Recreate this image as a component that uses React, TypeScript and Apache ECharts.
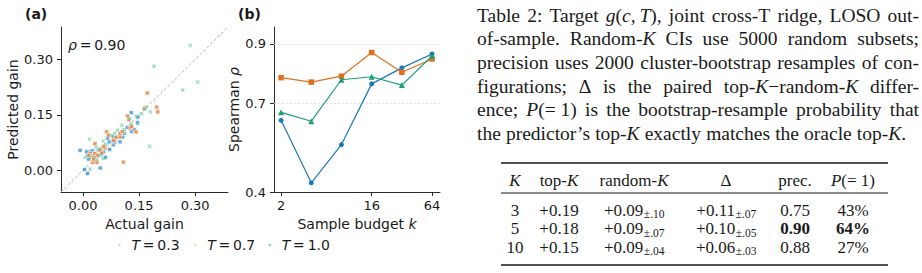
import React, { useEffect, useRef } from 'react';
import * as echarts from 'echarts';

// ---- Panel (a): predicted vs actual gain, one list of [actual, predicted] per temperature
const gainT03: number[][] = [
  [-0.008, 0.054], [0.004, 0.002], [0.012, -0.009], [0.046, 0.006], [0.010, 0.050],
  [0.019, 0.050], [0.025, 0.052], [0.041, 0.054], [0.050, 0.044], [0.071, 0.056],
  [0.070, 0.077], [0.081, 0.069], [0.085, 0.077], [0.099, 0.077], [0.106, 0.090],
  [0.081, 0.090], [0.130, 0.105], [0.146, 0.129], [0.147, 0.144], [0.129, 0.156],
  [0.119, 0.116], [0.066, 0.087], [0.090, 0.090], [0.036, 0.040], [0.060, 0.035],
  [0.137, 0.110], [0.110, 0.100], [0.015, 0.030], [0.030, 0.045], [0.055, 0.050],
];
const gainT07: number[][] = [
  [0.172, 0.209], [0.197, 0.171], [0.200, 0.158], [0.164, 0.167], [0.108, 0.022],
  [0.123, 0.137], [0.126, 0.114], [0.142, 0.104], [0.099, 0.090], [0.099, 0.099],
  [0.088, 0.088], [0.063, 0.104], [0.068, 0.095], [0.081, 0.081], [0.059, 0.060],
  [0.032, 0.072], [0.050, 0.047], [0.032, 0.045], [0.019, 0.045], [0.038, 0.040],
  [0.030, 0.035], [0.026, 0.021], [0.037, 0.021], [0.119, 0.147], [0.045, 0.055],
  [0.015, 0.040], [0.055, 0.065], [0.130, 0.118], [0.105, 0.105], [0.028, 0.030],
];
const gainT10: number[][] = [
  [0.287, 0.338], [0.190, 0.282], [0.307, 0.239], [0.267, 0.217], [0.178, 0.065],
  [0.170, 0.171], [0.017, 0.084], [0.054, 0.079], [0.104, 0.122], [0.129, 0.126],
  [0.142, 0.146], [0.093, 0.108], [0.077, 0.095], [0.046, 0.059], [0.023, 0.036],
  [0.037, 0.029], [0.054, 0.032], [0.012, 0.040], [0.146, 0.126], [0.157, 0.153],
  [0.019, 0.003], [0.180, 0.158], [0.110, 0.110], [0.060, 0.070], [0.035, 0.062],
  [0.125, 0.140], [0.085, 0.100], [0.165, 0.165], [0.005, 0.035], [0.045, 0.040],
];
const gainTicks = [0, 0.15, 0.3];
const gainRange = [-0.059, 0.388];
const overallRho = '0.90';

// ---- Panel (b): Spearman rho against sample budget k
const budgets = [2, 4, 8, 16, 32, 64];
const rhoT03 = [0.642, 0.431, 0.560, 0.765, 0.819, 0.866];
const rhoT07 = [0.786, 0.771, 0.791, 0.871, 0.804, 0.849];
const rhoT10 = [0.669, 0.639, 0.779, 0.789, 0.761, 0.859];
const budgetTicks = [2, 16, 64];
const rhoTicks = [0.4, 0.7, 0.9];
const rhoGridLines = [0.7, 0.9];

const seriesNames = ['T = 0.3', 'T = 0.7', 'T = 1.0'];

// ---- Table 2
const captionLines = [
  'Table 2: Target _g_(_c_,\u2009_T_), joint cross-T ridge, LOSO out-',
  'of-sample. Random-_K_ CIs use 5000 random subsets;',
  'precision uses 2000 cluster-bootstrap resamples of con-',
  'figurations; \u0394 is the paired top-_K_\u2212random-_K_ differ-',
  'ence; _P_(=\u00a01) is the bootstrap-resample probability that',
  'the predictor\u2019s top-_K_ exactly matches the oracle top-_K_.',
];
const tableHeader = ['_K_', 'top-_K_', 'random-_K_', '\u0394', 'prec.', '_P_(=\u00a01)'];
const tableK = ['3', '5', '10'];
const tableTopK = ['+0.19', '+0.18', '+0.15'];
const tableRandomK = ['+0.09', '+0.09', '+0.09'];
const tableRandomKCI = ['\u00b1.10', '\u00b1.07', '\u00b1.04'];
const tableDelta = ['+0.11', '+0.10', '+0.06'];
const tableDeltaCI = ['\u00b1.07', '\u00b1.05', '\u00b1.03'];
const tablePrecision = ['0.75', '0.90', '0.88'];
const tableExact = ['43%', '64%', '27%'];
const tableBestRow = 1;

const INK = '#1a1a1a';
const SANS = 'DejaVu Sans';
const SERIF = '"Liberation Serif", "Times New Roman", serif';
const BLUE = '#1b78b9';
const ORANGE = '#e0701c';
const GREEN = '#1c9f77';

const measureCtx = document.createElement('canvas').getContext('2d') as CanvasRenderingContext2D;
function fontOf(size: number, italic: boolean, bold = false) {
  return `${italic ? 'italic ' : ''}${bold ? 'bold ' : ''}${size}px ${SERIF}`;
}
function textWidth(s: string, font: string) {
  measureCtx.font = font;
  return measureCtx.measureText(s).width;
}
type Seg = { t: string; italic: boolean };
function parseSegments(word: string): Seg[] {
  return word
    .split('_')
    .map((t, i) => ({ t, italic: i % 2 === 1 }))
    .filter((s) => s.t.length > 0);
}
function segWidth(segs: Seg[], size: number, bold = false) {
  return segs.reduce((s, g) => s + textWidth(g.t, fontOf(size, g.italic, bold)), 0);
}
function segTexts(x0: number, y: number, segs: Seg[], size: number, bold = false): any[] {
  let x = x0;
  return segs.map((g) => {
    const el = {
      type: 'text',
      x,
      y,
      silent: true,
      style: {
        text: g.t,
        fontSize: size,
        fontFamily: SERIF,
        fontStyle: g.italic ? 'italic' : 'normal',
        fontWeight: bold ? 'bold' : 'normal',
        fill: INK,
        align: 'left',
        verticalAlign: 'middle',
      },
    };
    x += textWidth(g.t, fontOf(size, g.italic, bold));
    return el;
  });
}

// Justified caption paragraph
function captionElements(): any[] {
  const left = 477;
  const right = 919;
  const top = 15;
  const lead = 23.7;
  const size = 19.5;
  const out: any[] = [];
  captionLines.forEach((line, li) => {
    const words = line.split(' ').map(parseSegments);
    const widths = words.map((w) => segWidth(w, size));
    const total = widths.reduce((a, b) => a + b, 0);
    const isLast = li === captionLines.length - 1;
    const gap = isLast
      ? textWidth(' ', fontOf(size, false)) * 1.05
      : (right - left - total) / (words.length - 1);
    const y = top + li * lead;
    let x = left;
    words.forEach((w, wi) => {
      out.push(...segTexts(x, y, w, size));
      x += widths[wi] + gap;
    });
  });
  return out;
}

// Booktabs-style table
function tableElements(): any[] {
  const out: any[] = [];
  const size = 17;
  const subSize = 11.5;
  const colX = [515, 559, 634, 726, 795, 853];
  const ruleL = 501;
  const ruleR = 888;
  const yTop = 163;
  const yHead = 180;
  const yMid = 193;
  const yRows = [210, 228.5, 247];
  const yBottom = 265;
  const rule = (y: number, w: number) => ({
    type: 'line',
    silent: true,
    shape: { x1: ruleL, y1: y, x2: ruleR, y2: y },
    style: { stroke: INK, lineWidth: w },
  });
  out.push(rule(yTop, 1.6), rule(yMid, 1), rule(yBottom, 1.6));

  const cell = (cx: number, y: number, main: string, sub?: string, bold = false) => {
    const segs = parseSegments(main);
    const mw = segWidth(segs, size, bold);
    const sw = sub ? textWidth(sub, fontOf(subSize, false)) : 0;
    const x0 = cx - (mw + sw) / 2;
    out.push(...segTexts(x0, y, segs, size, bold));
    if (sub) out.push(...segTexts(x0 + mw + 0.5, y + 4, [{ t: sub, italic: false }], subSize));
  };
  tableHeader.forEach((h, i) => cell(colX[i], yHead, h));
  tableK.forEach((_, r) => {
    const y = yRows[r];
    const best = r === tableBestRow;
    cell(colX[0], y, tableK[r]);
    cell(colX[1], y, tableTopK[r]);
    cell(colX[2], y, tableRandomK[r], tableRandomKCI[r]);
    cell(colX[3], y, tableDelta[r], tableDeltaCI[r]);
    cell(colX[4], y, tablePrecision[r], undefined, best);
    cell(colX[5], y, tableExact[r], undefined, best);
  });
  return out;
}

function buildOption(): any {
  const axisLineStyle = { color: '#2b2b2b', width: 1 };
  const tickStyle = { length: 4, lineStyle: { color: '#2b2b2b', width: 1 } };
  const labelStyle = { fontSize: 13, color: INK, fontFamily: SANS };
  const nameStyle = {
    fontSize: 14,
    color: INK,
    fontFamily: SANS,
    rich: { i: { fontSize: 14, fontStyle: 'italic', fontFamily: SANS, color: INK } },
  };
  const legendRich = { i: { fontSize: 14, fontStyle: 'italic', fontFamily: SANS, color: INK } };

  const scatterBase = (name: string, data: number[][], color: string, symbol: string, size: number, opacity: number) => ({
    name,
    type: 'scatter',
    xAxisIndex: 0,
    yAxisIndex: 0,
    data,
    symbol,
    symbolSize: size,
    itemStyle: { color, opacity, borderColor: '#ffffff', borderWidth: symbol === 'rect' ? 0.7 : 0 },
    z: 3,
  });
  const lineBase = (name: string, values: number[], color: string, symbol: string, size: number) => ({
    name,
    type: 'line',
    xAxisIndex: 1,
    yAxisIndex: 1,
    data: budgets.map((k, i) => [k, values[i]]),
    symbol,
    symbolSize: size,
    showSymbol: true,
    lineStyle: { color, width: 1.2 },
    itemStyle: { color },
    z: 3,
  });

  const s03 = scatterBase(seriesNames[0], gainT03, '#3a8fcf', 'rect', 4, 0.8) as any;
  s03.markLine = {
    silent: true,
    symbol: ['none', 'none'],
    label: { show: false },
    lineStyle: { type: [3, 2], color: '#b5b5b5', width: 1 },
    data: [[{ coord: [gainRange[0], gainRange[0]] }, { coord: [gainRange[1], gainRange[1]] }]],
    z: 1,
  };
  const s07 = scatterBase(seriesNames[1], gainT07, '#e97d30', 'rect', 4, 0.8);
  const s10 = scatterBase(
    seriesNames[2],
    gainT10,
    '#6dcbae',
    'path://M0,1L1,0L5,4L4,5Z M4,0L5,1L1,5L0,4Z',
    4,
    0.75,
  );

  const l03 = lineBase(seriesNames[0], rhoT03, BLUE, 'circle', 5) as any;
  l03.markLine = {
    silent: true,
    symbol: ['none', 'none'],
    label: { show: false },
    lineStyle: { type: [2, 2], color: '#dcdcdc', width: 0.8 },
    data: rhoGridLines.map((v) => ({ yAxis: v })),
    z: 1,
  };
  const l07 = lineBase(seriesNames[1], rhoT07, ORANGE, 'rect', 5.5);
  const l10 = lineBase(seriesNames[2], rhoT10, GREEN, 'triangle', 6);

  return {
    animation: false,
    backgroundColor: '#ffffff',
    textStyle: { fontFamily: SANS },
    grid: [
      { left: 61, top: 27, width: 167, height: 165 },
      { left: 274, top: 27, width: 166, height: 165 },
    ],
    xAxis: [
      {
        gridIndex: 0,
        type: 'value',
        min: gainRange[0],
        max: gainRange[1],
        name: 'Actual gain',
        nameLocation: 'middle',
        nameGap: 22,
        nameTextStyle: nameStyle,
        axisLine: { onZero: false, lineStyle: axisLineStyle },
        axisTick: { ...tickStyle, customValues: gainTicks },
        axisLabel: { ...labelStyle, margin: 7, customValues: gainTicks, formatter: (v: number) => v.toFixed(2) },
        splitLine: { show: false },
      },
      {
        gridIndex: 1,
        type: 'log',
        logBase: 2,
        min: 1.7,
        max: 76.8,
        name: 'Sample budget {i|k}',
        nameLocation: 'middle',
        nameGap: 22,
        nameTextStyle: nameStyle,
        axisLine: { onZero: false, lineStyle: axisLineStyle },
        axisTick: { ...tickStyle, customValues: budgetTicks },
        axisLabel: { ...labelStyle, margin: 7, customValues: budgetTicks, formatter: (v: number) => String(Math.round(v)) },
        splitLine: { show: false },
        minorTick: { show: false },
      },
    ],
    yAxis: [
      {
        gridIndex: 0,
        type: 'value',
        min: gainRange[0],
        max: gainRange[1],
        name: 'Predicted gain',
        nameLocation: 'middle',
        nameGap: 40,
        nameTextStyle: nameStyle,
        axisLine: { show: true, onZero: false, lineStyle: axisLineStyle },
        axisTick: { show: true, ...tickStyle, customValues: gainTicks },
        axisLabel: { ...labelStyle, margin: 8, customValues: gainTicks, formatter: (v: number) => v.toFixed(2) },
        splitLine: { show: false },
      },
      {
        gridIndex: 1,
        type: 'value',
        min: 0.4,
        max: 0.957,
        name: 'Spearman {i|\u03c1}',
        nameLocation: 'middle',
        nameGap: 31,
        nameTextStyle: nameStyle,
        axisLine: { show: true, onZero: false, lineStyle: axisLineStyle },
        axisTick: { show: true, ...tickStyle, customValues: rhoTicks },
        axisLabel: { ...labelStyle, margin: 8, customValues: rhoTicks, formatter: (v: number) => v.toFixed(1) },
        splitLine: { show: false },
      },
    ],
    legend: {
      data: seriesNames,
      left: 112,
      top: 233,
      icon: 'circle',
      itemWidth: 14,
      itemHeight: 3,
      itemGap: 13,
      textStyle: { fontSize: 14, color: INK, fontFamily: SANS, rich: legendRich },
      formatter: (name: string) => name.replace('T = ', '{i|T}\u2009=\u2009'),
    },
    series: [s03, s07, s10, l03, l07, l10],
    graphic: [
      {
        type: 'text',
        x: 25,
        y: 14,
        silent: true,
        style: { text: '(a)', fontSize: 14, fontWeight: 'bold', fontFamily: SANS, fill: INK, verticalAlign: 'middle' },
      },
      {
        type: 'text',
        x: 238,
        y: 14,
        silent: true,
        style: { text: '(b)', fontSize: 14, fontWeight: 'bold', fontFamily: SANS, fill: INK, verticalAlign: 'middle' },
      },
      {
        type: 'text',
        x: 68,
        y: 45,
        silent: true,
        style: {
          text: `{i|\u03c1}\u2009=\u2009${overallRho}`,
          fontSize: 14,
          fontFamily: SANS,
          fill: INK,
          verticalAlign: 'middle',
          rich: { i: { fontSize: 14, fontStyle: 'italic', fontFamily: SANS } },
        },
      },
      ...captionElements(),
      ...tableElements(),
    ],
  };
}

export default function App() {
  const ref = useRef<HTMLDivElement>(null);
  useEffect(() => {
    if (!ref.current) return;
    const chart = echarts.init(ref.current, undefined, { renderer: 'svg' });
    chart.setOption(buildOption());
    return () => chart.dispose();
  }, []);
  return (
    <div
      ref={ref}
      style={{ position: 'absolute', left: 0, top: 0, width: 922, height: 273, background: '#fff' }}
    />
  );
}
